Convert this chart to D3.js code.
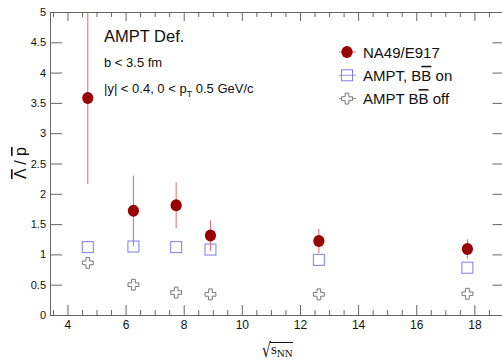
<!DOCTYPE html>
<html>
<head>
<meta charset="utf-8">
<script src="https://cdn.jsdelivr.net/npm/d3@7"></script>
<style>
  body { margin: 0; background: #fff; }
  svg { display: block; font-family: "Liberation Sans", Arial, sans-serif; }
</style>
</head>
<body>
<div id="chart"></div>
<script>
// energies (sqrt(s_NN), GeV)
const energies = [4.7, 6.27, 7.74, 8.92, 12.65, 17.76];
// NA49/E917 data with errors
const dataValues = [3.58, 1.72, 1.81, 1.31, 1.22, 1.09];
const dataErrors = [1.42, 0.58, 0.38, 0.25, 0.20, 0.16];
// AMPT with baryon-antibaryon annihilation on / off
const amptOn = [1.12, 1.13, 1.12, 1.08, 0.91, 0.78];
const amptOff = [0.86, 0.50, 0.37, 0.34, 0.34, 0.35];
const xMajorTicks = [4, 6, 8, 10, 12, 14, 16, 18];
const yTicks = [0, 0.5, 1, 1.5, 2, 2.5, 3, 3.5, 4, 4.5, 5];

const width = 502;
const height = 363;
const plot = { left: 50, right: 502, top: 12, bottom: 315 };
const axisColor = "#666";

const svg = d3.select("#chart")
    .append("svg")
    .attr("width", width)
    .attr("height", height);

const x = d3.scaleLinear()
    .domain([3.4, 18.95])
    .range([plot.left, plot.right]);
const y = d3.scaleLinear()
    .domain([0, 5])
    .range([plot.bottom, plot.top]);

const xMinor = d3.range(3.5, 19, 0.5).filter(v => !xMajorTicks.includes(v));

function styleAxis(g, size) {
    g.selectAll(".domain").attr("stroke", axisColor);
    g.selectAll(".tick line").attr("stroke", axisColor);
    g.selectAll(".tick text")
        .attr("fill", "#111")
        .attr("font-size", size || "12px")
        .attr("font-family", "Liberation Sans, Arial, sans-serif");
}

// bottom axis
svg.append("g")
    .attr("transform", `translate(0,${plot.bottom})`)
    .call(d3.axisBottom(x).tickValues(xMajorTicks).tickSize(-10).tickSizeOuter(0).tickPadding(5))
    .call(styleAxis, "12px");
svg.append("g")
    .attr("transform", `translate(0,${plot.bottom})`)
    .call(d3.axisBottom(x).tickValues(xMinor).tickSize(-5).tickSizeOuter(0).tickFormat(""))
    .call(styleAxis);

// top axis
svg.append("g")
    .attr("transform", `translate(0,${plot.top})`)
    .call(d3.axisTop(x).tickValues(xMajorTicks).tickSize(-9).tickSizeOuter(0).tickFormat(""))
    .call(styleAxis);
svg.append("g")
    .attr("transform", `translate(0,${plot.top})`)
    .call(d3.axisTop(x).tickValues(xMinor).tickSize(-5).tickSizeOuter(0).tickFormat(""))
    .call(styleAxis);

// left axis
svg.append("g")
    .attr("transform", `translate(${plot.left},0)`)
    .call(d3.axisLeft(y).tickValues(yTicks).tickSize(-12).tickSizeOuter(0).tickPadding(4)
        .tickFormat(d3.format("")))
    .call(styleAxis, "11px");

// right axis (frame line falls just outside the picture)
svg.append("g")
    .attr("transform", `translate(${plot.right + 0.5},0)`)
    .call(d3.axisRight(y).tickValues(yTicks).tickSize(-10).tickSizeOuter(0).tickFormat(""))
    .call(styleAxis);

const clipId = "plot-clip";
svg.append("clipPath").attr("id", clipId)
    .append("rect")
    .attr("x", plot.left).attr("y", plot.top)
    .attr("width", plot.right - plot.left).attr("height", plot.bottom - plot.top);

const graph = svg.append("g").attr("clip-path", `url(#${clipId})`);

// AMPT BB off: open crosses
const crossPath = d3.symbol().type(d3.symbolCross).size(66)();
graph.selectAll(".off")
    .data(energies.map((e, i) => ({ e, v: amptOff[i] })))
    .join("path")
    .attr("class", "off")
    .attr("d", crossPath)
    .attr("transform", d => `translate(${x(d.e)},${y(d.v)})`)
    .attr("fill", "#fff")
    .attr("stroke", "#777")
    .attr("stroke-width", 1);

// AMPT BB on: open squares
const sq = 11;
graph.selectAll(".on")
    .data(energies.map((e, i) => ({ e, v: amptOn[i] })))
    .join("rect")
    .attr("class", "on")
    .attr("x", d => x(d.e) - sq / 2)
    .attr("y", d => y(d.v) - sq / 2)
    .attr("width", sq)
    .attr("height", sq)
    .attr("fill", "none")
    .attr("stroke", "#7c7cf4")
    .attr("stroke-width", 1);

// data error bars
const dataPts = energies.map((e, i) => ({ e, v: dataValues[i], err: dataErrors[i] }));
graph.selectAll(".err")
    .data(dataPts)
    .join("line")
    .attr("class", "err")
    .attr("x1", d => x(d.e))
    .attr("x2", d => x(d.e))
    .attr("y1", d => y(d.v - d.err))
    .attr("y2", d => y(d.v + d.err))
    .attr("stroke", "#e06868")
    .attr("stroke-width", 1);

graph.selectAll(".pt")
    .data(dataPts)
    .join("ellipse")
    .attr("class", "pt")
    .attr("cx", d => x(d.e))
    .attr("cy", d => y(d.v))
    .attr("rx", 5.6)
    .attr("ry", 6)
    .attr("fill", "#990000");

// labels inside the frame
const txt = svg.append("g").attr("fill", "#111");
txt.append("text").attr("x", 104).attr("y", 42).attr("font-size", "16.5px").text("AMPT Def.");
txt.append("text").attr("x", 104).attr("y", 67).attr("font-size", "13px").text("b < 3.5 fm");
const cut = txt.append("text").attr("x", 104).attr("y", 93).attr("font-size", "13px");
cut.append("tspan").text("|y| < 0.4, 0 < p");
cut.append("tspan").attr("font-size", "9px").attr("dy", 4).text("T");
cut.append("tspan").attr("dy", -4).text(" 0.5 GeV/c");

// legend
const legendRows = [
    { label: ["NA49/E917"], kind: "data", color: "#e06868" },
    { label: ["AMPT, B", "B", " on"], kind: "on", color: "#9a9af4" },
    { label: ["AMPT B", "B", " off"], kind: "off", color: "#888" }
];
const legend = svg.append("g");
legendRows.forEach((r, i) => {
    const ly = 52 + i * 23.3;
    const lx = 347;
    legend.append("line")
        .attr("x1", lx - 8).attr("x2", lx + 9)
        .attr("y1", ly).attr("y2", ly)
        .attr("stroke", r.color).attr("stroke-width", 1);
    if (r.kind === "data") {
        legend.append("ellipse").attr("cx", lx).attr("cy", ly).attr("rx", 5.6).attr("ry", 6).attr("fill", "#990000");
    } else if (r.kind === "on") {
        legend.append("rect").attr("x", lx - sq / 2).attr("y", ly - sq / 2)
            .attr("width", sq).attr("height", sq)
            .attr("fill", "none").attr("stroke", "#7c7cf4");
    } else {
        legend.append("path").attr("d", crossPath)
            .attr("transform", `translate(${lx},${ly})`)
            .attr("fill", "#fff").attr("stroke", "#777");
    }
    const t = legend.append("text").attr("x", 363).attr("y", ly + 5.5)
        .attr("font-size", "15px").attr("fill", "#111");
    r.label.forEach((part, j) => {
        const ts = t.append("tspan").text(part);
        if (j === 1) ts.style("text-decoration", "overline");
    });
});

// axis titles
const xt = svg.append("g").attr("fill", "#111");
xt.append("text").attr("x", 262).attr("y", 357).attr("font-size", "20px")
    .style("font-family", "DejaVu Sans, sans-serif").attr("transform", "translate(262,357) scale(0.7,1) translate(-262,-357)")
    .text("\u221A");
const sText = xt.append("text").attr("x", 271).attr("y", 354).attr("font-size", "15px")
    .style("font-family", "Liberation Serif, Times New Roman, serif");
sText.append("tspan").text("s");
sText.append("tspan").attr("font-size", "11px").attr("dy", 3).text("NN");
xt.append("line").attr("x1", 270).attr("x2", 293).attr("y1", 342.5).attr("y2", 342.5)
    .attr("stroke", "#111").attr("stroke-width", 1);

const yt = svg.append("text")
    .attr("transform", "translate(26,163) rotate(-90)")
    .attr("text-anchor", "middle")
    .attr("font-size", "16px")
    .attr("fill", "#111");
yt.append("tspan").style("text-decoration", "overline").text("\u039B");
yt.append("tspan").text(" / ");
yt.append("tspan").style("text-decoration", "overline").text("p");
</script>
</body>
</html>
